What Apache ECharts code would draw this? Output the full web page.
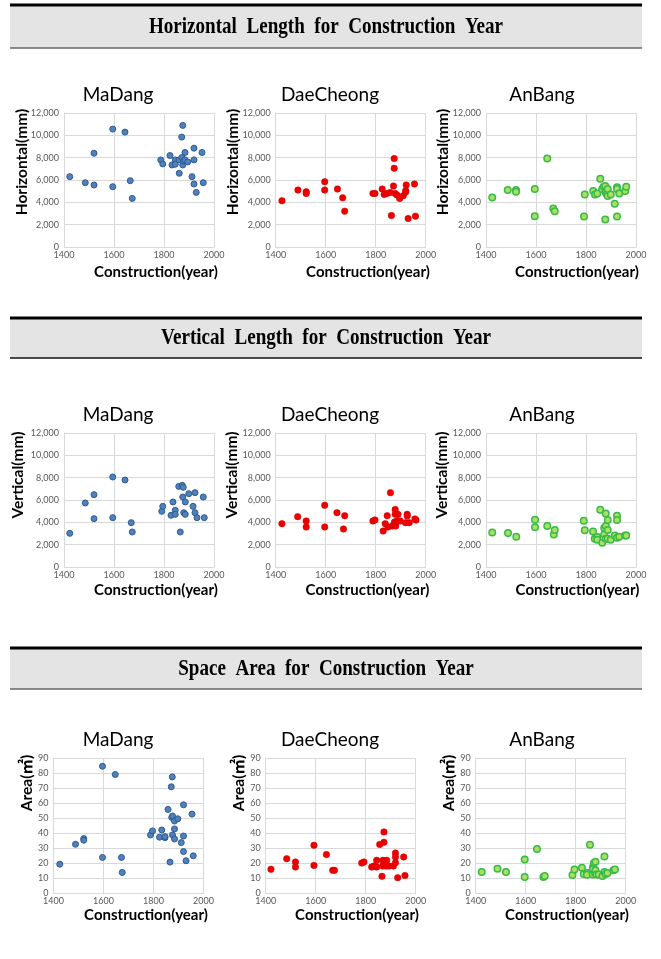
<!DOCTYPE html>
<html><head><meta charset="utf-8">
<script src="https://cdn.jsdelivr.net/npm/echarts@6/dist/echarts.min.js"></script>
<style>html,body{margin:0;padding:0;background:#fff}#c{width:661px;height:959px}</style>
</head><body><div id="c"></div>
<script>
// ---------- DATA ----------
const sections = ['Horizontal  Length  for  Construction  Year', 'Vertical  Length  for  Construction  Year', 'Space  Area  for  Construction  Year'];
const places = ['MaDang', 'DaeCheong', 'AnBang'];
const yNames = ['Horizontal(mm)', 'Vertical(mm)', 'Area(㎡)'];
const xName = 'Construction(year)';
const yearTicks = [1400, 1600, 1800, 2000];
const lengthTicks = [0, 2000, 4000, 6000, 8000, 10000, 12000];
const areaTicks = [0, 10, 20, 30, 40, 50, 60, 70, 80, 90];

const madangHorizontal = [[1423,6300],[1485,5760],[1520,8400],[1520,5550],[1595,10560],[1595,5400],[1644,10290],[1665,5940],[1673,4350],[1787,7800],[1795,7440],[1824,8190],[1832,7350],[1845,7800],[1845,7410],[1860,7800],[1861,6600],[1871,8010],[1871,9840],[1875,10890],[1875,7350],[1878,7700],[1884,8460],[1884,7800],[1895,7620],[1912,6300],[1920,8850],[1920,7800],[1920,5640],[1929,4890],[1952,8460],[1957,5760]];
const daecheongHorizontal = [[1425,4140],[1489,5100],[1522,4950],[1522,4800],[1596,5850],[1596,5100],[1647,5190],[1668,4400],[1676,3210],[1789,4800],[1797,4800],[1826,5190],[1834,4710],[1845,4800],[1858,4890],[1863,2820],[1871,5460],[1874,7920],[1874,7050],[1878,4800],[1885,4650],[1896,4350],[1910,4590],[1920,5040],[1922,5550],[1920,4920],[1930,2550],[1955,5640],[1959,2760]];
const anbangHorizontal = [[1425,4440],[1487,5100],[1520,5100],[1520,4950],[1595,5190],[1595,2760],[1645,7920],[1669,3450],[1675,3210],[1792,2730],[1795,4710],[1829,5010],[1836,4710],[1845,4800],[1857,6120],[1865,5190],[1871,5400],[1877,5460],[1877,2460],[1879,4890],[1883,4740],[1887,5190],[1887,4560],[1899,4710],[1915,3870],[1924,5340],[1924,5190],[1924,2730],[1933,4800],[1957,5010],[1961,5400]];

const madangVertical = [[1423,3015],[1485,5730],[1520,6480],[1520,4330],[1595,8060],[1595,4420],[1644,7790],[1669,3970],[1673,3135],[1791,4985],[1795,5430],[1828,4630],[1836,5820],[1845,5075],[1845,4715],[1859,7220],[1865,3135],[1873,7310],[1875,6270],[1877,7135],[1879,4865],[1885,5820],[1885,4715],[1899,6570],[1916,5430],[1924,6660],[1924,4865],[1932,4420],[1957,6270],[1961,4420]];
const daecheongVertical = [[1425,3880],[1488,4510],[1522,4120],[1522,3580],[1596,5520],[1596,3580],[1645,4865],[1671,3400],[1676,4600],[1789,4120],[1797,4210],[1830,3220],[1838,3880],[1846,4600],[1849,3580],[1859,6660],[1866,3670],[1875,4030],[1878,5160],[1878,4715],[1880,3670],[1885,4120],[1889,4715],[1889,4120],[1898,4120],[1919,3970],[1926,4715],[1926,4570],[1934,3970],[1957,4300],[1961,4200]];
const anbangVertical = [[1425,3100],[1488,3045],[1521,2716],[1596,4240],[1596,3550],[1645,3670],[1671,2900],[1675,3310],[1791,4150],[1795,3280],[1828,3190],[1835,2540],[1845,2690],[1845,2450],[1857,5130],[1865,2180],[1873,2900],[1873,3490],[1879,4780],[1879,3670],[1879,2540],[1887,4210],[1887,3310],[1887,2540],[1899,2450],[1915,2810],[1924,4600],[1924,4210],[1924,2630],[1933,2720],[1957,2810],[1961,2810]];

const madangArea = [[1425,19.2],[1488,32.5],[1521,36.3],[1521,35.2],[1596,84.5],[1596,23.7],[1647,79],[1672,23.7],[1675,13.7],[1788,38.7],[1796,41.4],[1824,37.2],[1833,42],[1846,36.9],[1846,37.6],[1858,55.7],[1866,20.6],[1871,70.8],[1873,50.4],[1875,77.4],[1876,51.3],[1876,38.7],[1884,48],[1884,42.7],[1884,36],[1897,49.5],[1911,33.6],[1920,58.8],[1920,38],[1920,27.6],[1930,21.5],[1954,52.6],[1959,24.8]];
const daecheongArea = [[1421,15.8],[1484,22.9],[1519,20.7],[1519,17.3],[1593,31.8],[1593,18.4],[1643,25.6],[1668,15.1],[1675,15.1],[1784,20],[1793,20.7],[1824,17.3],[1833,18],[1844,21.8],[1844,17.3],[1856,32.4],[1865,11.1],[1868,18],[1869,21.8],[1873,40.7],[1873,33.8],[1877,19.6],[1881,18],[1884,21.8],[1893,18],[1911,18],[1919,20.2],[1919,26.7],[1919,24],[1928,10.2],[1952,24],[1957,11.6]];
const anbangArea = [[1424,14],[1487,16.2],[1521,14],[1596,22.4],[1596,10.7],[1645,29.3],[1671,10.7],[1676,11.3],[1787,12],[1795,15.6],[1825,16.9],[1832,12.7],[1845,13.3],[1845,12.2],[1857,32.2],[1868,12.4],[1869,17.3],[1869,16],[1873,20],[1877,13.3],[1879,20.9],[1879,15.1],[1883,12.4],[1892,12.4],[1907,11.3],[1915,24.4],[1915,14],[1920,12.7],[1927,13.3],[1951,15.1],[1957,15.6]];

const panelData = [
  [madangHorizontal, daecheongHorizontal, anbangHorizontal],
  [madangVertical, daecheongVertical, anbangVertical],
  [madangArea, daecheongArea, anbangArea]
];

// ---------- LAYOUT / STYLE ----------
const gridLefts = [[64, 275.7, 486], [64, 275.7, 486], [53.5, 265.7, 475.7]];
const gridTops = [113, 433, 758];
const gridHeights = [134, 134, 135];
const gridW = 150;
const bannerTops = [4, 317, 647];
const bannerBottoms = [48, 358, 689];
const titleY = [95, 415, 740];
const titleX = [118, 330, 542];
const xNameY = [272, 590, 915];
const xNameX = [[156, 368, 577], [156, 367.5, 577.5], [146, 357, 567]];
const yNameX = [[22, 233, 443], [18, 232, 442], [27, 239, 449]];
const yNameY = [162, 475, 783];

const markerStyles = [
  {color: '#4f81bd', borderColor: '#2f5a8f', borderWidth: 1, size: 6},
  {color: '#ee0000', borderColor: '#d00000', borderWidth: 0.5, size: 6.5},
  {color: '#a8e05f', borderColor: '#38b94a', borderWidth: 1.5, size: 6.5}
];

const labelFont = 'Lato, "Noto Sans", sans-serif';
const grids = [], xAxes = [], yAxes = [], series = [], graphic = [];

for (let r = 0; r < 3; r++) {
  for (let c = 0; c < 3; c++) {
    const idx = grids.length;
    grids.push({left: gridLefts[r][c], top: gridTops[r], width: gridW, height: gridHeights[r], containLabel: false});
    xAxes.push({
      type: 'value', gridIndex: idx,
      min: yearTicks[0], max: yearTicks[yearTicks.length - 1], interval: yearTicks[1] - yearTicks[0],
      axisLine: {show: true, lineStyle: {color: '#d9d9d9'}},
      axisTick: {show: false},
      splitLine: {show: true, lineStyle: {color: '#d9d9d9', width: 1}},
      axisLabel: {color: '#595959', fontSize: 9, fontFamily: labelFont, margin: 4, formatter: v => String(v), showMaxLabel: true}
    });
    const ticks = r < 2 ? lengthTicks : areaTicks;
    yAxes.push({
      type: 'value', gridIndex: idx,
      min: ticks[0], max: ticks[ticks.length - 1], interval: ticks[1] - ticks[0],
      axisLine: {show: true, lineStyle: {color: '#d9d9d9'}},
      axisTick: {show: false},
      splitLine: {show: true, lineStyle: {color: '#d9d9d9', width: 1}},
      axisLabel: {color: '#595959', fontSize: 9, fontFamily: labelFont, margin: 5,
        formatter: v => r < 2 ? v.toLocaleString('en-US') : String(v)}
    });
    const ms = markerStyles[c];
    series.push({
      type: 'scatter', xAxisIndex: idx, yAxisIndex: idx,
      data: panelData[r][c], symbolSize: ms.size,
      itemStyle: {color: ms.color, borderColor: ms.borderColor, borderWidth: ms.borderWidth, opacity: 1},
      emphasis: {disabled: true}, silent: true, clip: false
    });
    graphic.push({type: 'text', x: titleX[c], y: titleY[r], style: {text: places[c], font: '19px ' + labelFont, fill: '#000', align: 'center', verticalAlign: 'middle'}});
    graphic.push({type: 'text', x: xNameX[r][c], y: xNameY[r], style: {text: xName, font: 'bold 15px ' + labelFont, fill: '#000', align: 'center', verticalAlign: 'middle'}});
    graphic.push({type: 'text', x: yNameX[r][c], y: yNameY[r], rotation: Math.PI / 2, style: {text: yNames[r], font: 'bold 15.5px ' + labelFont + ', "Noto Sans CJK KR"', fill: '#000', align: 'center', verticalAlign: 'middle'}});
  }
  const bt = bannerTops[r], bb = bannerBottoms[r];
  graphic.push({type: 'rect', shape: {x: 10, y: bt, width: 632, height: bb - bt}, style: {fill: '#e4e4e4'}, z: -1});
  graphic.push({type: 'line', shape: {x1: 10, y1: bt + 1, x2: 642, y2: bt + 1}, style: {stroke: '#000', lineWidth: 3}});
  graphic.push({type: 'line', shape: {x1: 10, y1: bb, x2: 642, y2: bb}, style: {stroke: r === 1 ? '#111' : '#666', lineWidth: 1.5}});
  graphic.push({type: 'text', x: 326, y: (bt + bb) / 2 + 1, scaleX: 0.83, style: {text: sections[r], font: 'bold 23px "Liberation Serif", serif', fill: '#000', align: 'center', verticalAlign: 'middle'}});
}

const chart = echarts.init(document.getElementById('c'), null, {renderer: 'canvas'});
chart.setOption({
  animation: false,
  backgroundColor: '#fff',
  grid: grids, xAxis: xAxes, yAxis: yAxes, series: series,
  graphic: graphic
});
</script>
</body></html>
